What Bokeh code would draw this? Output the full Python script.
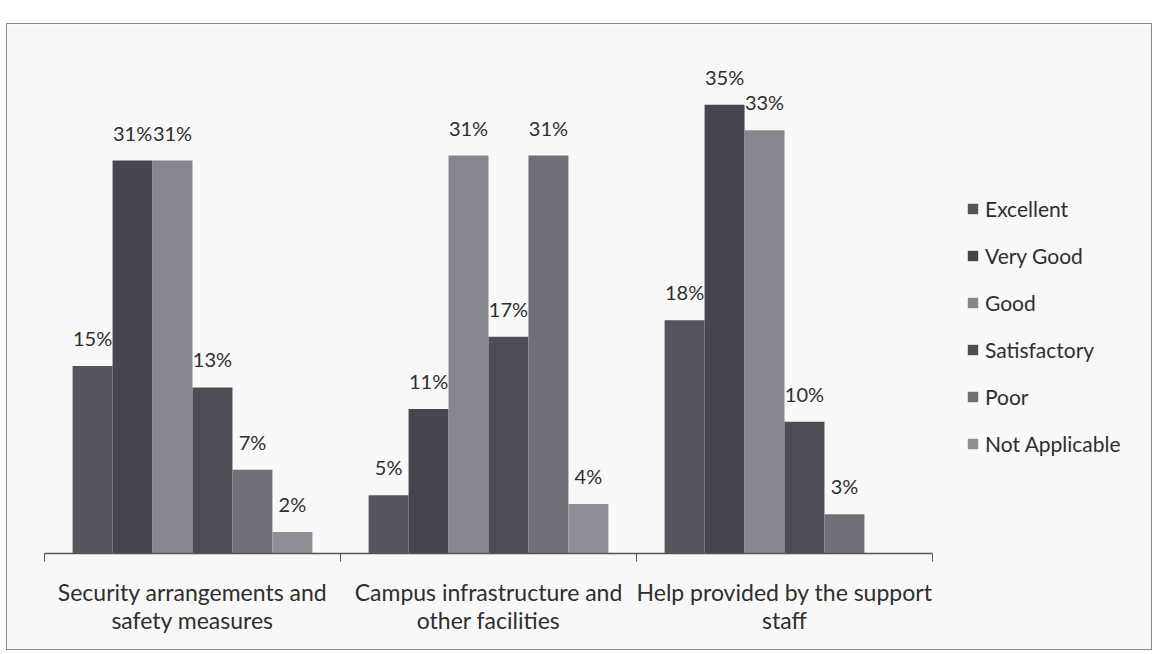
from bokeh.plotting import figure
from bokeh.models import Range1d, FixedTicker, ColumnDataSource, Legend, LegendItem
from bokeh.core.properties import value
from bokeh.embed import file_html
from bokeh.resources import INLINE

categories = ["Security arrangements and\nsafety measures",
              "Campus infrastructure and\nother facilities",
              "Help provided by the support\nstaff"]
series = ["Excellent", "Very Good", "Good", "Satisfactory", "Poor", "Not Applicable"]
excellent = [14.8, 4.6, 18.4]
very_good = [31.0, 11.4, 35.4]
good = [31.0, 31.4, 33.4]
satisfactory = [13.1, 17.1, 10.4]
poor = [6.6, 31.4, 3.1]
not_applicable = [1.7, 3.9, 0.0]
values = [excellent, very_good, good, satisfactory, poor, not_applicable]
colors = ["#55555d", "#46464e", "#86868f", "#4d4d55", "#6f6f78", "#8f8f98"]

FONT = "Lato"
TEXT = "#2e2e2e"

W, H = 1144, 625
LEFT = 37
GROUP_PX = 296.0
x_end = -0.5 + (W - LEFT) / GROUP_PX

p = figure(width=W, height=H, margin=(24, 0, 0, 7),
           x_range=Range1d(-0.5, x_end), y_range=Range1d(0, 40),
           y_axis_location=None, output_backend="svg", toolbar_location=None,
           min_border_left=LEFT, min_border_right=0, min_border_top=22, min_border_bottom=96,
           background_fill_color="#f8f8f8", border_fill_color="#f8f8f8",
           styles={"outline": "1px solid #8a8a8a"})
p.outline_line_color = None
p.xgrid.visible = False
p.ygrid.visible = False

bw = 0.135
items = []
for i, (name, vals, col) in enumerate(zip(series, values, colors)):
    xs = [g + (i - 2.5) * bw for g in range(len(categories))]
    src = ColumnDataSource(dict(x=xs, top=vals))
    r = p.vbar(x="x", top="top", width=bw, source=src, fill_color=col, line_color=None)
    items.append(LegendItem(label=name, renderers=[r]))
    lx = [x for x, v in zip(xs, vals) if v > 0]
    lv = [v for v in vals if v > 0]
    lt = [f"{round(v)}%" for v in lv]
    p.text(x=lx, y=lv, text=lt, text_align="center", text_baseline="alphabetic",
           y_offset=-28, text_font=value(FONT), text_font_size="20px", text_color=TEXT)

ax = p.xaxis[0]
ax.bounds = (-0.5, 2.5)
ax.ticker = FixedTicker(ticks=[0, 1, 2], minor_ticks=[-0.5, 0.5, 1.5, 2.5])
ax.major_label_overrides = {0: categories[0], 1: categories[1], 2: categories[2]}
ax.major_tick_line_color = None
ax.minor_tick_line_color = "#555555"
ax.minor_tick_out = 8
ax.minor_tick_in = 0
ax.axis_line_color = "#555555"
ax.axis_line_width = 1.5
ax.major_label_text_font = FONT
ax.major_label_text_font_size = "23px"
ax.major_label_text_color = TEXT
ax.major_label_text_line_height = 1.0
ax.major_label_standoff = 16

legend = Legend(items=items, location=(922, 97), orientation="vertical",
                glyph_width=13, glyph_height=13, label_height=20, spacing=22,
                label_standoff=6, padding=0, margin=0,
                border_line_color=None, background_fill_alpha=0,
                label_text_font=FONT, label_text_font_size="21px", label_text_color=TEXT)
p.add_layout(legend, "center")

open("out.html", "w").write(file_html(p, INLINE))
